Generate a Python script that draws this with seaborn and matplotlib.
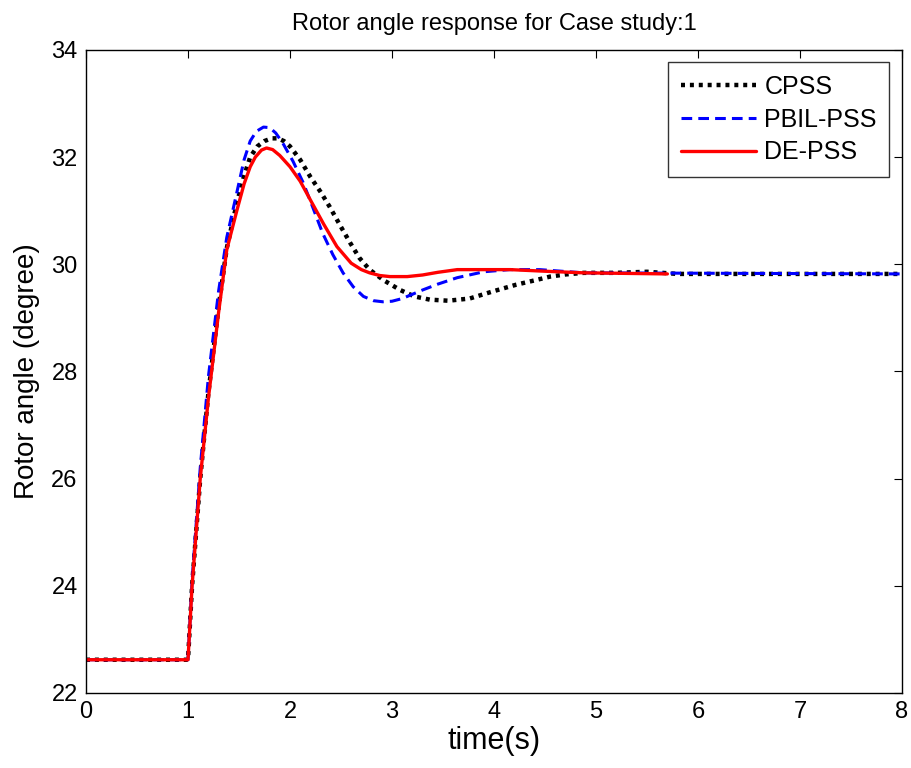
import numpy as np
import pandas as pd
import matplotlib
matplotlib.use("Agg")
import matplotlib.pyplot as plt
import seaborn as sns

# 数据点
t_cpss = [0, 1.0, 1.04, 1.12, 1.2, 1.3, 1.38, 1.48, 1.55, 1.61, 1.68, 1.75, 1.82, 1.88, 1.94, 2.0,
          2.1, 2.2, 2.3, 2.39, 2.49, 2.59, 2.68, 2.78, 2.92, 3.08, 3.22, 3.37, 3.55, 3.76, 4.0,
          4.22, 4.4, 4.55, 4.7, 4.88, 5.2, 5.5, 5.8, 8.0]
y_cpss = [22.62, 22.62, 24.0, 26.0, 27.6, 29.2, 30.3, 31.15, 31.65, 32.0, 32.2, 32.3, 32.35, 32.35, 32.3, 32.2,
          31.95, 31.63, 31.35, 31.07, 30.73, 30.4, 30.12, 29.9, 29.7, 29.52, 29.4, 29.34, 29.32, 29.36, 29.5,
          29.62, 29.7, 29.77, 29.81, 29.84, 29.84, 29.86, 29.82, 29.82]

t_pbil = [0, 1.0, 1.04, 1.12, 1.2, 1.3, 1.38, 1.48, 1.55, 1.61, 1.67, 1.74, 1.8, 1.86, 1.93, 2.03, 2.13,
          2.22, 2.32, 2.42, 2.52, 2.62, 2.72, 2.82, 2.91, 3.0, 3.1, 3.2, 3.3, 3.45, 3.64, 3.9, 4.15,
          4.45, 4.88, 8.0]
y_pbil = [22.62, 22.62, 24.1, 26.2, 27.9, 29.5, 30.5, 31.35, 31.95, 32.3, 32.48, 32.56, 32.55, 32.45, 32.26, 31.92, 31.52,
          31.08, 30.58, 30.18, 29.84, 29.58, 29.4, 29.32, 29.3, 29.31, 29.36, 29.44, 29.52, 29.63, 29.75, 29.86, 29.9,
          29.9, 29.84, 29.82]

t_de = [0, 1.0, 1.04, 1.12, 1.2, 1.3, 1.38, 1.48, 1.55, 1.61, 1.66, 1.72, 1.77, 1.83, 1.9, 2.0,
        2.1, 2.2, 2.33, 2.46, 2.6, 2.7, 2.78, 2.88, 2.98, 3.15, 3.3, 3.45, 3.64, 4.16, 4.5, 4.88, 5.7]
y_de = [22.62, 22.62, 24.0, 26.0, 27.5, 29.1, 30.27, 31.01, 31.5, 31.82, 32.0, 32.13, 32.17, 32.14, 32.03, 31.82,
        31.55, 31.2, 30.75, 30.33, 30.02, 29.9, 29.84, 29.79, 29.77, 29.77, 29.8, 29.85, 29.9, 29.9, 29.87, 29.84, 29.82]

series = ["CPSS", "PBIL-PSS", "DE-PSS"]

sns.set_theme(style="white")
plt.rcParams['font.family'] = ['Liberation Sans', 'DejaVu Sans']

fig = plt.figure(figsize=(9.12, 7.68), dpi=100)
ax = fig.add_axes([0.0943, 0.0977, 0.8947, 0.8373])

sns.lineplot(x=t_cpss, y=y_cpss, ax=ax, color='black', linewidth=3.2,
             linestyle=(0, (0.9, 1.1)), label=series[0])
sns.lineplot(x=t_pbil, y=y_pbil, ax=ax, color='blue', linewidth=2.2,
             linestyle=(0, (3.5, 2)), label=series[1])
sns.lineplot(x=t_de, y=y_de, ax=ax, color='red', linewidth=2.4,
             linestyle='-', label=series[2])

ax.set_xlim(0, 8)
ax.set_ylim(22, 34)
ax.set_xticks(range(0, 9))
ax.set_yticks(range(22, 35, 2))
ax.tick_params(direction='in', length=6, width=0.8, top=True, right=True,
               labelsize=17, colors='black', pad=6)
for s in ax.spines.values():
    s.set_color('black')
    s.set_linewidth(1.0)

ax.set_title('Rotor angle response for Case study:1', fontsize=17, pad=14, color='black')
ax.set_xlabel('time(s)', fontsize=22, labelpad=2, color='black')
ax.set_ylabel('Rotor angle (degree)', fontsize=20, labelpad=8, color='black')

leg = ax.legend(loc='upper right', fontsize=18, handlelength=3.0, frameon=True,
                fancybox=False, edgecolor='black', borderaxespad=0.5,
                labelspacing=0.35, borderpad=0.5, handletextpad=0.35)
leg.get_frame().set_linewidth(1.0)
for txt in leg.get_texts():
    txt.set_color('black')

fig.savefig('out.png', dpi=100)
